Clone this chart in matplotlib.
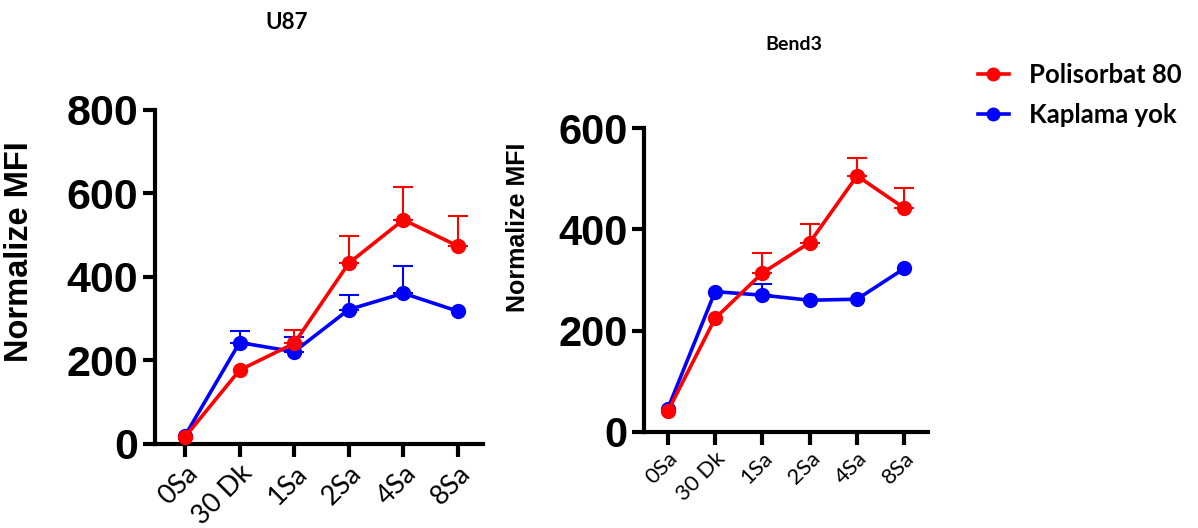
import matplotlib
matplotlib.use("Agg")
import matplotlib.pyplot as plt
from matplotlib.lines import Line2D

time_labels = ["0Sa", "30 Dk", "1Sa", "2Sa", "4Sa", "8Sa"]

u87_polisorbat = [17, 177, 241, 433, 537, 474]
u87_polisorbat_err = [0, 0, 32, 66, 79, 72]
u87_kaplama = [20, 243, 221, 322, 361, 318]
u87_kaplama_err = [0, 27, 35, 35, 65, 0]

bend3_polisorbat = [40, 224, 314, 374, 506, 442]
bend3_polisorbat_err = [0, 0, 40, 37, 36, 39]
bend3_kaplama = [45, 277, 270, 260, 262, 323]
bend3_kaplama_err = [0, 0, 23, 0, 0, 0]

RED = "#ff0000"
BLUE = "#0000ff"

fig = plt.figure(figsize=(11.98, 5.28), dpi=100)

ax1 = fig.add_axes([0.1294, 0.1591, 0.2738, 0.6326])
ax2 = fig.add_axes([0.5376, 0.1824, 0.2371, 0.5746])


def draw_panel(ax, blue, blue_err, red, red_err, ymax, ystep, tick_size, label_size,
               xtick_size, xlim, label_xy):
    x = list(range(len(time_labels)))
    # blue first, red on top
    for vals, err, col in [(blue, blue_err, BLUE), (red, red_err, RED)]:
        # only draw upper error bars where there is an error value
        ex = [i for i, e in enumerate(err) if e > 0]
        if ex:
            ax.errorbar(ex, [vals[i] for i in ex], yerr=[[0] * len(ex), [err[i] for i in ex]],
                        fmt="none", ecolor=col, elinewidth=1.5, capsize=7, capthick=1.5,
                        zorder=3)
        ax.plot(x, vals, color=col, lw=2.6, marker="o", markersize=10, zorder=4,
                clip_on=False)
    ax.set_xlim(*xlim)
    ax.set_ylim(0, ymax)
    ax.set_yticks(range(0, ymax + 1, ystep))
    ax.set_xticks(x)
    ax.set_xticklabels(time_labels, rotation=45, ha="right", rotation_mode="anchor",
                       fontsize=xtick_size, family="Lato")
    for lab in ax.get_yticklabels():
        lab.set_fontsize(tick_size)
        lab.set_fontweight("bold")
        lab.set_family("Liberation Sans")
    ax.set_ylabel("Normalize MFI", fontsize=label_size, fontweight="bold",
                  family="Liberation Sans")
    ax.yaxis.set_label_coords(*label_xy)
    for side in ["top", "right"]:
        ax.spines[side].set_visible(False)
    for side in ["left", "bottom"]:
        ax.spines[side].set_linewidth(3)
    ax.tick_params(axis="both", width=3, length=9, direction="out", pad=3)


draw_panel(ax1, u87_kaplama, u87_kaplama_err, u87_polisorbat, u87_polisorbat_err,
           800, 200, 31, 23.5, 19.5, (-0.55, 5.46), (-0.366, 0.575))
draw_panel(ax2, bend3_kaplama, bend3_kaplama_err, bend3_polisorbat, bend3_polisorbat_err,
           600, 200, 30, 18, 16, (-0.5, 5.5), (-0.40, 0.675))

fig.text(0.2396, 0.958, "U87", ha="center", va="center", fontsize=16,
         fontweight="bold", family="Lato")
fig.text(0.663, 0.915, "Bend3", ha="center", va="center", fontsize=14,
         fontweight="bold", family="Lato")

handles = [
    Line2D([], [], color=RED, lw=2.6, marker="o", markersize=9),
    Line2D([], [], color=BLUE, lw=2.6, marker="o", markersize=9),
]
fig.legend(handles, ["Polisorbat 80", "Kaplama yok"], loc="upper left",
           bbox_to_anchor=(0.797, 0.925), frameon=False, handlelength=1.2,
           handletextpad=0.8,
           prop={"family": "Lato", "weight": "bold", "size": 18.5}, labelspacing=0.62)

fig.savefig("out.png", dpi=100)
